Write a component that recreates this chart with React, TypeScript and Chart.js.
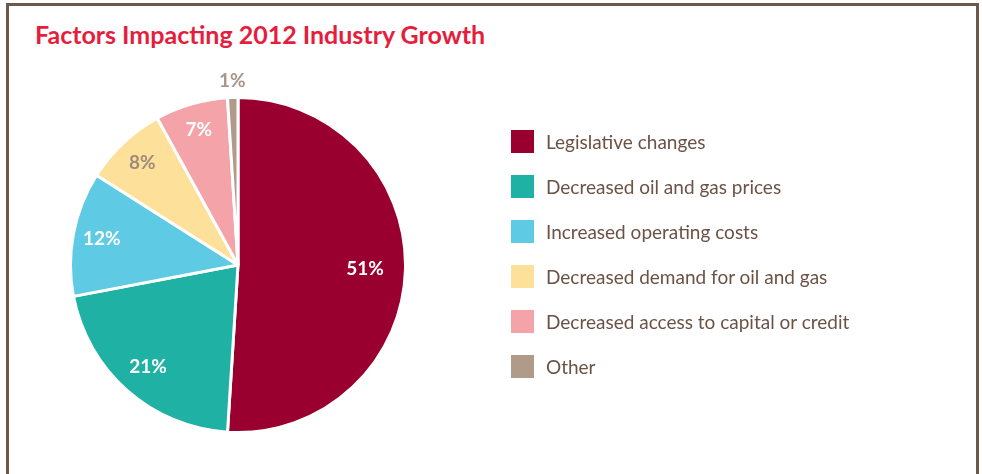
import React, { useEffect, useRef } from "react";
import { Chart, registerables } from "chart.js";

Chart.register(...registerables);

const categories = [
  "Legislative changes",
  "Decreased oil and gas prices",
  "Increased operating costs",
  "Decreased demand for oil and gas",
  "Decreased access to capital or credit",
  "Other",
];
const values = [51, 21, 12, 8, 7, 1];
const valueLabels = ["51%", "21%", "12%", "8%", "7%", "1%"];
const colors = ["#99002f", "#20b1a5", "#5ecae4", "#fde09a", "#f4a3a9", "#b09b8b"];
const labelColors = ["#ffffff", "#ffffff", "#ffffff", "#a08c7b", "#ffffff", "#a8968a"];
const title = "Factors Impacting 2012 Industry Growth";

const FONT = "Lato, 'Open Sans', sans-serif";

const labelPlugin = {
  id: "sliceLabels",
  afterDatasetsDraw(chart: any) {
    const ctx = chart.ctx;
    const meta = chart.getDatasetMeta(0);
    ctx.save();
    ctx.font = `bold 19px ${FONT}`;
    ctx.textAlign = "center";
    ctx.textBaseline = "middle";
    meta.data.forEach((arc: any, i: number) => {
      const { x, y, startAngle, endAngle, outerRadius } = arc.getProps(
        ["x", "y", "startAngle", "endAngle", "outerRadius"],
        true
      );
      const mid = (startAngle + endAngle) / 2;
      const small = values[i] < 3;
      const r = small ? outerRadius + 17 : outerRadius * (0.85 - values[i] * 0.0018);
      ctx.fillStyle = labelColors[i];
      ctx.fillText(valueLabels[i], x + Math.cos(mid) * r, y + Math.sin(mid) * r);
    });
    ctx.restore();
  },
};

export default function App() {
  const ref = useRef<HTMLCanvasElement | null>(null);
  useEffect(() => {
    document.body.style.margin = "0";
    const chart = new Chart(ref.current as HTMLCanvasElement, {
      type: "pie",
      data: {
        labels: categories,
        datasets: [
          {
            data: values,
            backgroundColor: colors,
            borderColor: "#ffffff",
            borderWidth: 3,
          },
        ],
      },
      options: {
        animation: false,
        responsive: false,
        devicePixelRatio: 1,
        layout: { padding: { left: 69, top: 96, right: 575, bottom: 40 } },
        plugins: {
          legend: { display: false },
          tooltip: { enabled: false },
        },
      },
      plugins: [labelPlugin],
    });
    return () => chart.destroy();
  }, []);

  return (
    <div
      style={{
        position: "relative",
        width: 982,
        height: 474,
        overflow: "hidden",
        background: "#ffffff",
        fontFamily: FONT,
      }}
    >
      <div
        style={{
          position: "absolute",
          left: 6,
          top: 3,
          width: 967,
          height: 500,
          borderTop: "3px solid #6d5849",
          borderLeft: "3px solid #6d5849",
          borderRight: "3px solid #6d5849",
        }}
      />
      <div
        style={{
          position: "absolute",
          left: 35,
          top: 19,
          color: "#e51e3d",
          fontWeight: 700,
          fontSize: 25,
          lineHeight: "30px",
          whiteSpace: "nowrap",
        }}
      >
        {title}
      </div>
      <canvas
        ref={ref}
        width={982}
        height={474}
        style={{ position: "absolute", left: 0, top: 0, width: 982, height: 474 }}
      />
      <div style={{ position: "absolute", left: 511, top: 130 }}>
        {categories.map((c, i) => (
          <div
            key={c}
            style={{
              display: "flex",
              alignItems: "center",
              height: 23,
              marginBottom: 22,
              whiteSpace: "nowrap",
            }}
          >
            <div style={{ width: 23, height: 23, background: colors[i], flexShrink: 0 }} />
            <div
              style={{
                marginLeft: 12,
                fontSize: 19,
                color: "#6b5245",
                lineHeight: "23px",
              }}
            >
              {c}
            </div>
          </div>
        ))}
      </div>
    </div>
  );
}
